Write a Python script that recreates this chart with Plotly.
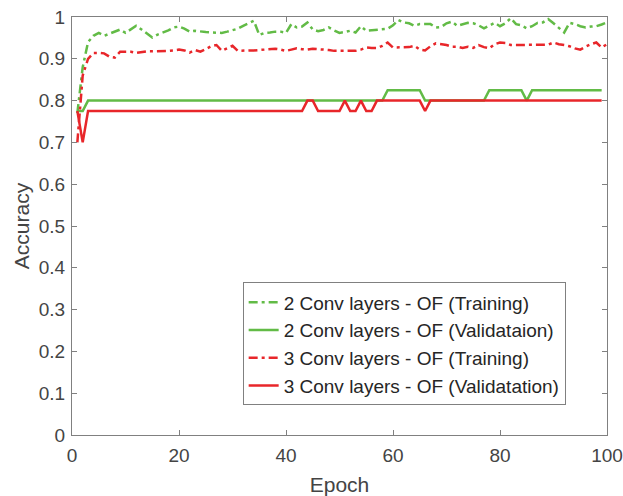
import plotly.graph_objects as go

epochs = list(range(1, 101))

train_2conv = [
    0.77, 0.88, 0.94, 0.955, 0.962, 0.955, 0.96, 0.965, 0.97, 0.962,
    0.97, 0.979, 0.97, 0.96, 0.951, 0.958, 0.963, 0.968, 0.975, 0.977,
    0.972, 0.965, 0.967, 0.965, 0.964, 0.963, 0.963, 0.962, 0.965, 0.968,
    0.972, 0.979, 0.985, 0.991, 0.957, 0.962, 0.963, 0.965, 0.965, 0.962,
    0.983, 0.975, 0.977, 0.987, 0.97, 0.966, 0.969, 0.975, 0.968, 0.962,
    0.964, 0.967, 0.963, 0.978, 0.967, 0.968, 0.97, 0.971, 0.972, 0.98,
    0.993, 0.987, 0.985, 0.979, 0.983, 0.983, 0.983, 0.975, 0.976, 0.985,
    0.989, 0.979, 0.983, 0.986, 0.985, 0.98, 0.973, 0.98, 0.986, 0.978,
    0.985, 0.997, 0.983, 0.98, 0.973, 0.978, 0.986, 0.987, 0.995, 0.985,
    0.975, 0.963, 0.986, 0.983, 0.978, 0.975, 0.977, 0.978, 0.982, 0.987,
]

val_2conv = (
    [0.775, 0.775] + [0.8] * 56 + [0.825] * 7 + [0.8] * 12
    + [0.825] * 7 + [0.8] + [0.825] * 14
)

train_3conv = [
    0.70, 0.86, 0.90, 0.914, 0.914, 0.913, 0.905, 0.903, 0.917, 0.917,
    0.917, 0.914, 0.916, 0.918, 0.918, 0.918, 0.918, 0.919, 0.92, 0.922,
    0.92, 0.915, 0.921, 0.917, 0.923, 0.93, 0.933, 0.919, 0.925, 0.931,
    0.919, 0.92, 0.92, 0.92, 0.921, 0.923, 0.924, 0.924, 0.922, 0.919,
    0.922, 0.925, 0.923, 0.922, 0.924, 0.923, 0.923, 0.921, 0.919, 0.919,
    0.919, 0.919, 0.919, 0.922, 0.927, 0.926, 0.926, 0.931, 0.939, 0.927,
    0.927, 0.927, 0.928, 0.931, 0.922, 0.92, 0.93, 0.937, 0.935, 0.933,
    0.929, 0.929, 0.926, 0.929, 0.926, 0.933, 0.928, 0.925, 0.935, 0.939,
    0.938, 0.933, 0.933, 0.933, 0.933, 0.933, 0.933, 0.933, 0.934, 0.939,
    0.935, 0.933, 0.93, 0.925, 0.922, 0.929, 0.935, 0.939, 0.927, 0.935,
]

val_3conv = (
    [0.775, 0.70] + [0.775] * 41 + [0.8, 0.8] + [0.775] * 5
    + [0.8, 0.775, 0.775, 0.8, 0.775, 0.775] + [0.8] * 9 + [0.775]
    + [0.8] * 33
)

names = [
    "2 Conv layers - OF (Training)",
    "2 Conv layers - OF (Validataion)",
    "3 Conv layers - OF (Training)",
    "3 Conv layers - OF (Validatation)",
]

GREEN = "#62BB46"
RED = "#E8262A"
DASHDOT = "9px,4px,3px,4px"

series = [
    (train_2conv, GREEN, DASHDOT),
    (val_2conv, GREEN, "solid"),
    (train_3conv, RED, DASHDOT),
    (val_3conv, RED, "solid"),
]

fig = go.Figure()
for i, (vals, col, dash) in enumerate(series):
    fig.add_trace(go.Scatter(
        x=epochs, y=vals, mode="lines", name=names[i],
        line=dict(color=col, width=2.5, dash=dash),
    ))

FONT = "Liberation Sans, Arial"
axis_common = dict(
    showgrid=False, zeroline=False, showline=True, linecolor="#808080",
    linewidth=1.3, mirror="ticks", ticks="inside", ticklen=5,
    tickcolor="#808080", tickwidth=1, automargin=False,
    ticklabeloverflow="allow",
    tickfont=dict(family=FONT, size=19, color="#444444"),
)

fig.update_layout(
    width=623, height=496,
    margin=dict(l=72, r=16, t=17, b=61),
    paper_bgcolor="white", plot_bgcolor="white",
    font=dict(family=FONT, color="#444444"),
    xaxis=dict(range=[0, 100], dtick=20, tick0=0, ticklabelstandoff=3,
               title=dict(text="Epoch", font=dict(size=21, color="#444444"), standoff=12),
               **axis_common),
    yaxis=dict(range=[0, 1], dtick=0.1, tick0=0, ticklabelstandoff=2,
               title=dict(text="Accuracy", font=dict(size=21, color="#444444"), standoff=3),
               **axis_common),
    legend=dict(
        x=0.319, y=0.365, xanchor="left", yanchor="top",
        bgcolor="white", bordercolor="#808080", borderwidth=1,
        font=dict(family=FONT, size=19, color="#262626"),
        tracegroupgap=0, traceorder="normal",
    ),
    showlegend=True,
)

fig.write_html("out.html")
